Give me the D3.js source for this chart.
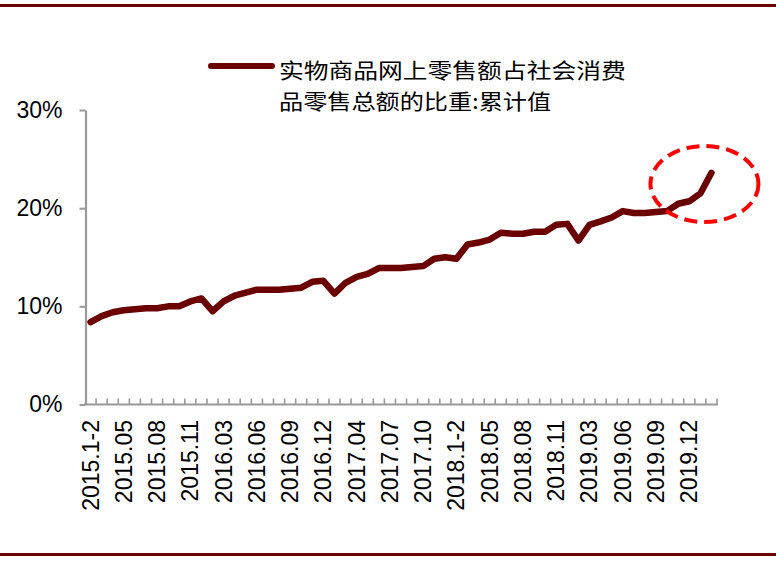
<!DOCTYPE html>
<html><head><meta charset="utf-8">
<script src="https://cdn.jsdelivr.net/npm/d3@7"></script>
<style>
html,body{margin:0;padding:0;background:#fff;}
svg{display:block;font-family:"Liberation Sans",Arial,sans-serif;}
</style></head>
<body>
<svg id="chart" width="776" height="561"></svg>
<script>
const categories = [
 "2015.1-2","2015.03","2015.04","2015.05","2015.06","2015.07","2015.08","2015.09","2015.10","2015.11","2015.12",
 "2016.1-2","2016.03","2016.04","2016.05","2016.06","2016.07","2016.08","2016.09","2016.10","2016.11","2016.12",
 "2017.1-2","2017.03","2017.04","2017.05","2017.06","2017.07","2017.08","2017.09","2017.10","2017.11","2017.12",
 "2018.1-2","2018.03","2018.04","2018.05","2018.06","2018.07","2018.08","2018.09","2018.10","2018.11","2018.12",
 "2019.1-2","2019.03","2019.04","2019.05","2019.06","2019.07","2019.08","2019.09","2019.10","2019.11","2019.12",
 "2020.1-2","2020.03"
];
const values = [
 8.4, 9.0, 9.4, 9.6, 9.7, 9.8, 9.8, 10.0, 10.0, 10.5, 10.8,
 9.5, 10.5, 11.1, 11.4, 11.7, 11.7, 11.7, 11.8, 11.9, 12.5, 12.6,
 11.3, 12.4, 13.0, 13.3, 13.9, 13.9, 13.9, 14.0, 14.1, 14.85, 15.0,
 14.85, 16.3, 16.5, 16.8, 17.5, 17.4, 17.4, 17.6, 17.6, 18.3, 18.4,
 16.7, 18.3, 18.65, 19.05, 19.7, 19.5, 19.5, 19.6, 19.7, 20.45, 20.7,
 21.5, 23.6
];
const tickLabels = ["2015.1-2","2015.05","2015.08","2015.11","2016.03","2016.06","2016.09","2016.12",
 "2017.04","2017.07","2017.10","2018.1-2","2018.05","2018.08","2018.11","2019.03","2019.06","2019.09","2019.12"];
const yTicks = [0, 10, 20, 30];
const seriesName = ["实物商品网上零售额占社会消费", "品零售总额的比重:累计值"];
const highlightEnd = "2020.03";

const svg = d3.select("#chart");
const lineColor = "#6B0000";
const axisColor = "#999999";

// frame lines
svg.append("line").attr("x1",0).attr("x2",776).attr("y1",5.5).attr("y2",5.5)
  .attr("stroke","#6B0000").attr("stroke-width",3);
svg.append("line").attr("x1",0).attr("x2",776).attr("y1",554.5).attr("y2",554.5)
  .attr("stroke","#6B0000").attr("stroke-width",3);

const x = d3.scaleBand().domain(categories).range([85, 717]).padding(0);
const y = d3.scaleLinear().domain([0, 30]).range([404.5, 110]);

// y axis
const yAxis = d3.axisLeft(y).tickValues(yTicks).tickSize(6).tickSizeOuter(0)
  .tickFormat(d => d + "%");
const gy = svg.append("g").attr("transform","translate(85.5,0)").call(yAxis);
gy.select(".domain").attr("stroke",axisColor).attr("stroke-width",2.2);
gy.selectAll(".tick line").attr("stroke",axisColor).attr("stroke-width",2);
gy.selectAll(".tick text").attr("x",-23).attr("fill","#000")
  .style("font-size","23px").style("font-family","'Liberation Sans',Arial,sans-serif");

// x axis baseline
const gx = svg.append("g");
gx.append("line").attr("x1",x.range()[0]-1).attr("x2",x.range()[1]+1)
  .attr("y1",y(0)).attr("y2",y(0)).attr("stroke",axisColor).attr("stroke-width",2.2);
const bounds = categories.map(c => x(c)).concat([x.range()[1]]);
gx.selectAll("line.tk").data(bounds.slice(1)).join("line").attr("class","tk")
  .attr("x1",d=>d).attr("x2",d=>d).attr("y1",y(0)).attr("y2",y(0)-6)
  .attr("stroke",axisColor).attr("stroke-width",1.6);
gx.selectAll("text.lbl").data(tickLabels).join("text").attr("class","lbl")
  .attr("transform", d => `translate(${x(d)+x.bandwidth()/2+8},420) rotate(-90)`)
  .attr("text-anchor","end").attr("fill","#000")
  .style("font-size","23px").text(d=>d);

// data line
const line = d3.line().x((d,i)=>x(categories[i])+x.bandwidth()/2).y(d=>y(d));
svg.append("path").datum(values).attr("d",line).attr("fill","none")
  .attr("stroke",lineColor).attr("stroke-width",6.5)
  .attr("stroke-linejoin","round").attr("stroke-linecap","round");

// highlight ellipse around the latest points
const hx1 = x(highlightEnd) + x.bandwidth()/2;
svg.append("ellipse").attr("cx",hx1-7).attr("cy",184).attr("rx",54).attr("ry",38)
  .attr("fill","none").attr("stroke","#FF0000").attr("stroke-width",4)
  .attr("stroke-dasharray","13,7");

// legend
svg.append("line").attr("x1",211).attr("x2",272).attr("y1",66).attr("y2",66)
  .attr("stroke",lineColor).attr("stroke-width",6).attr("stroke-linecap","round");
const lt = svg.append("g").style("font-family","'Noto Sans CJK SC',sans-serif")
  .style("font-size","21px").attr("fill","#000");
lt.append("text").attr("transform","translate(279,78) scale(1.18,1)").text(seriesName[0]);
lt.append("text").attr("transform","translate(279,109) scale(1.15,1)").text(seriesName[1]);
</script>
</body></html>
